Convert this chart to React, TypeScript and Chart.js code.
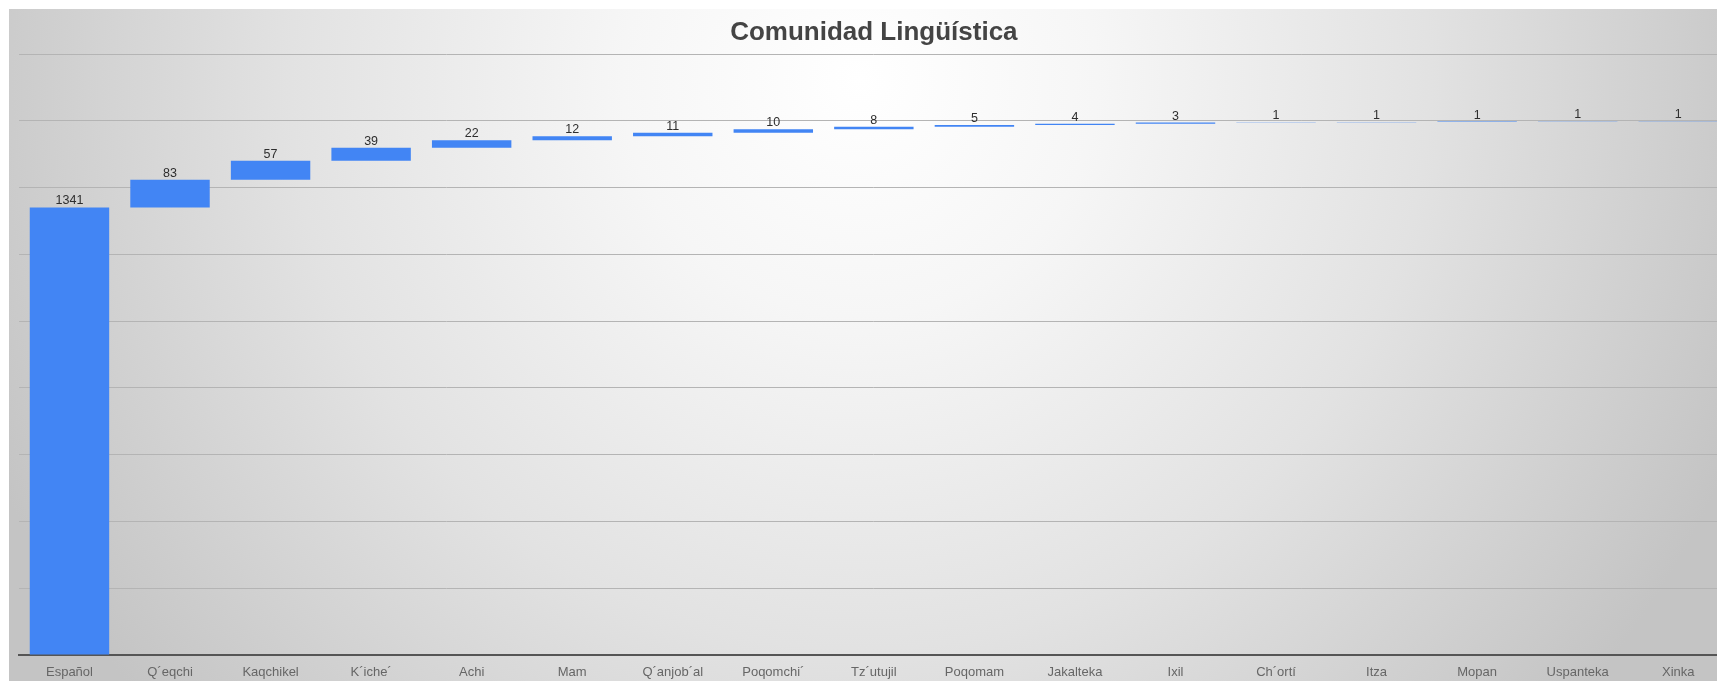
import React, { useEffect, useRef } from "react";
import { Chart, registerables } from "chart.js";

Chart.register(...registerables);

const categories = [
  "Español", "Q´eqchi", "Kaqchikel", "K´iche´", "Achi", "Mam", "Q´anjob´al",
  "Poqomchi´", "Tz´utujil", "Poqomam", "Jakalteka", "Ixil", "Ch´ortí", "Itza",
  "Mopan", "Uspanteka", "Xinka",
];
const values = [1341, 83, 57, 39, 22, 12, 11, 10, 8, 5, 4, 3, 1, 1, 1, 1, 1];
const yMax = 1800;
const yStep = 200;
const title = "Comunidad Lingüística";

const FONT = "'Liberation Sans', Arial, sans-serif";

export default function App() {
  const ref = useRef<HTMLCanvasElement | null>(null);

  useEffect(() => {
    if (!ref.current) return;
    // waterfall: floating bars [start, end]
    const floating: [number, number][] = [];
    let acc = 0;
    for (const v of values) {
      floating.push([acc, acc + v]);
      acc += v;
    }

    const bgPlugin = {
      id: "bg",
      beforeDraw(chart: any) {
        const { ctx, width, height } = chart;
        ctx.save();
        const g = ctx.createRadialGradient(851, 70, 0, 851, 70, 950);
        g.addColorStop(0, "#ffffff");
        g.addColorStop(0.25, "#f6f6f6");
        g.addColorStop(0.6, "#e2e2e2");
        g.addColorStop(1, "#c4c4c4");
        ctx.fillStyle = g;
        ctx.fillRect(0, 0, width, height);
        ctx.restore();
      },
    };

    const labelPlugin = {
      id: "vlabels",
      afterDatasetsDraw(chart: any) {
        const { ctx } = chart;
        const meta = chart.getDatasetMeta(0);
        ctx.save();
        ctx.font = `12.5px ${FONT}`;
        ctx.fillStyle = "#2e2e2e";
        ctx.textAlign = "center";
        ctx.textBaseline = "alphabetic";
        meta.data.forEach((el: any, i: number) => {
          const top = Math.min(el.y, el.base);
          ctx.fillText(String(values[i]), el.x, top - 3);
        });
        ctx.restore();
      },
    };

    const chart = new Chart(ref.current, {
      type: "bar",
      data: {
        labels: categories,
        datasets: [
          {
            data: floating as any,
            backgroundColor: "#4285f4",
            borderWidth: 0,
            barPercentage: 0.79,
            categoryPercentage: 1,
          },
        ],
      },
      options: {
        responsive: false,
        animation: false,
        devicePixelRatio: 1,
        layout: { padding: { left: 10.2, right: 9.5, top: 0, bottom: 1.4 } },
        plugins: {
          legend: { display: false },
          tooltip: { enabled: false },
          title: {
            display: true,
            text: title,
            color: "#444444",
            font: { family: FONT, size: 26, weight: "bold" },
            padding: { top: 8, bottom: 6 },
          },
        },
        scales: {
          x: {
            type: "category",
            offset: true,
            grid: { display: false, drawTicks: false },
            border: { display: true, color: "#555555", width: 2 },
            ticks: {
              padding: 10,
              color: "#666666",
              font: { family: FONT, size: 13 },
              autoSkip: false,
              maxRotation: 0,
            },
          },
          y: {
            min: 0,
            max: yMax,
            ticks: { display: false, stepSize: yStep },
            grid: { color: "#b4b4b4", drawTicks: false, lineWidth: 1 },
            border: { display: false },
          },
        },
      },
      plugins: [bgPlugin, labelPlugin],
    });
    return () => chart.destroy();
  }, []);

  return (
    <div
      style={{
        position: "fixed",
        left: 0,
        top: 0,
        width: 1717,
        height: 681,
        overflow: "hidden",
        background: "#ffffff",
      }}
    >
      <canvas
        ref={ref}
        width={1729}
        height={683}
        style={{ position: "absolute", left: 9, top: 9, width: 1729, height: 683 }}
      />
    </div>
  );
}
